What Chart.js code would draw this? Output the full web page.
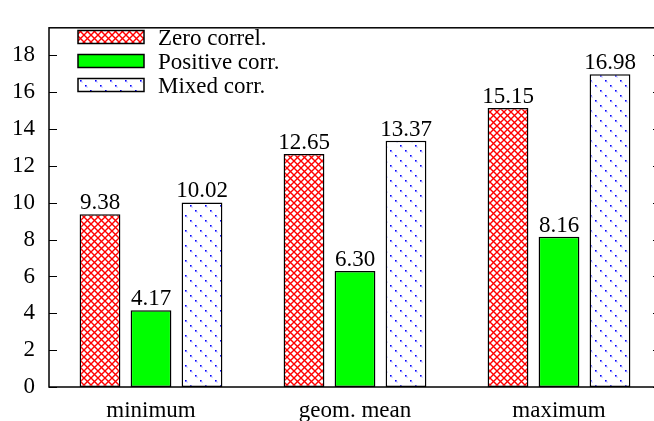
<!DOCTYPE html>
<html>
<head>
<meta charset="utf-8">
<script src="https://cdn.jsdelivr.net/npm/chart.js@4/dist/chart.umd.min.js"></script>
<style>
  html, body { margin: 0; padding: 0; overflow: hidden; background: #fff; }
  #wrap { width: 654px; height: 421px; overflow: hidden; }
</style>
</head>
<body>
<div id="wrap"><canvas id="myChart" width="662" height="421"></canvas></div>
<script>
const categories = ['minimum', 'geom. mean', 'maximum']
const seriesNames = ['Zero correl.', 'Positive corr.', 'Mixed corr.']
const zeroCorrel = [9.38, 12.65, 15.15]
const positiveCorr = [4.17, 6.30, 8.16]
const mixedCorr = [10.02, 13.37, 16.98]
const yTicks = [0, 2, 4, 6, 8, 10, 12, 14, 16, 18]

const FONT = 'Liberation Serif'

function makeTile (size, draw) {
  const c = document.createElement('canvas')
  c.width = size
  c.height = size
  const g = c.getContext('2d')
  g.fillStyle = '#fff'
  g.fillRect(0, 0, size, size)
  draw(g, size)
  return g.createPattern(c, 'repeat')
}

const crossHatch = makeTile(7, function (g, s) {
  g.strokeStyle = '#ff0000'
  g.lineWidth = 1.4
  g.beginPath()
  g.moveTo(-1, -1); g.lineTo(s + 1, s + 1)
  g.moveTo(s + 1, -1); g.lineTo(-1, s + 1)
  g.stroke()
})

// short blue dashes along "\" diagonals
const dottedDiag = makeTile(15, function (g, s) {
  g.fillStyle = '#0000ff';
  [0, 5, 10].forEach(function (t) {
    g.fillRect(t, t, 1.6, 1.6)
  })
  g.fillStyle = 'rgba(0,0,255,0.4)';
  [0, 5, 10].forEach(function (t) {
    g.fillRect(t + 1.6, t + 1.6, 1, 1)
  })
})

const fills = [crossHatch, '#00ff00', dottedDiag]

const framePlugin = {
  id: 'frame',
  afterDatasetsDraw (chart) {
    const ctx = chart.ctx
    const a = chart.chartArea
    const y = chart.scales.y
    ctx.save()
    ctx.strokeStyle = '#000'
    ctx.lineWidth = 1
    yTicks.forEach(function (v) {
      const py = Math.round(y.getPixelForValue(v)) + 0.5
      ctx.beginPath()
      ctx.moveTo(a.left, py); ctx.lineTo(a.left + 8, py)
      ctx.moveTo(a.right, py); ctx.lineTo(a.right - 8, py)
      ctx.stroke()
    })
    ctx.lineWidth = 1.5
    ctx.strokeRect(a.left, a.top, a.right - a.left, a.bottom - a.top)

    // value labels
    ctx.fillStyle = '#000'
    ctx.font = '23px "' + FONT + '"'
    ctx.textAlign = 'center'
    ctx.textBaseline = 'alphabetic'
    chart.data.datasets.forEach(function (ds, i) {
      chart.getDatasetMeta(i).data.forEach(function (bar, j) {
        ctx.fillText(ds.data[j].toFixed(2), bar.x, bar.y - 5)
      })
    })

    // legend
    ctx.textAlign = 'left'
    ctx.textBaseline = 'middle'
    ctx.font = '23px "' + FONT + '"'
    seriesNames.forEach(function (name, i) {
      const cy = 37 + i * 24
      ctx.fillStyle = fills[i]
      ctx.fillRect(78, cy - 6, 66, 12)
      ctx.lineWidth = 1.5
      ctx.strokeStyle = '#000'
      ctx.strokeRect(78, cy - 6.5, 66, 13)
      ctx.fillStyle = '#000'
      ctx.fillText(name, 158, cy + 2)
    })
    ctx.restore()
  }
}

const datasets = [zeroCorrel, positiveCorr, mixedCorr].map(function (values, i) {
  return {
    label: seriesNames[i],
    data: values,
    backgroundColor: fills[i],
    borderColor: '#000',
    borderWidth: 1.5,
    borderSkipped: false,
    categoryPercentage: 0.75,
    barPercentage: 0.8
  }
})

new Chart(document.getElementById('myChart'), {
  type: 'bar',
  data: { labels: categories, datasets },
  options: {
    responsive: false,
    animation: false,
    devicePixelRatio: 1,
    layout: { padding: { left: 0, top: 10, right: 1, bottom: 0 } },
    plugins: { legend: { display: false }, tooltip: { enabled: false } },
    scales: {
      x: {
        grid: { display: false, drawTicks: false },
        border: { display: false },
        ticks: { color: '#000', font: { family: FONT, size: 23 }, padding: 10 },
        afterFit: function (s) { s.height = 34 }
      },
      y: {
        min: 0,
        max: 19.5,
        grid: { display: false, drawTicks: false },
        border: { display: false },
        afterBuildTicks: function (s) { s.ticks = yTicks.map(function (v) { return { value: v } }) },
        ticks: { color: '#000', font: { family: FONT, size: 23 }, padding: 14 },
        afterFit: function (s) { s.width = 49 }
      }
    }
  },
  plugins: [framePlugin]
})
</script>
</body>
</html>
